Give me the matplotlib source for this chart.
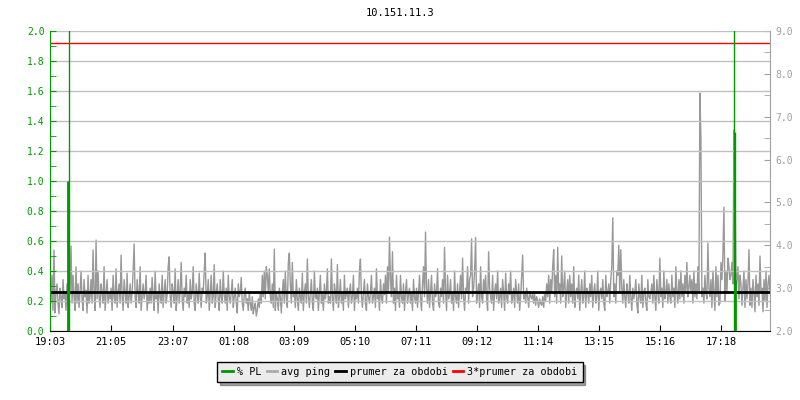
import numpy as np
import matplotlib
matplotlib.use('Agg')
import matplotlib.pyplot as plt
from matplotlib.lines import Line2D
from matplotlib.ticker import MultipleLocator, FormatStrFormatter

plt.rcParams['font.family'] = 'DejaVu Sans Mono'
plt.rcParams['font.size'] = 7

title = '10.151.11.3'
span_min = 1432
tick_minutes = [0, 122, 244, 365, 486, 607, 728, 849, 971, 1092, 1213, 1335]
tick_labels = ['19:03', '21:05', '23:07', '01:08', '03:09', '05:10',
               '07:11', '09:12', '11:14', '13:15', '15:16', '17:18']

# avg ping [ms], one value every ~2 minutes
avg_ping = [
    3.2, 2.65, 3.3, 2.48, 3.89, 2.42, 2.9, 3.1, 2.65, 2.4, 3.0, 2.8, 2.55, 3.2, 2.75, 2.9, 2.48, 3.1, 2.65, 2.8,
    2.9, 3.98, 2.65, 3.3, 2.8, 2.48, 3.5, 2.65, 3.1, 2.55, 2.9, 3.4, 2.75, 2.48, 3.2, 2.8, 2.95, 2.42, 3.3, 2.65,
    2.8, 3.2, 2.65, 3.89, 2.9, 2.48, 4.12, 2.75, 3.4, 2.8, 2.55, 3.1, 2.9, 2.65, 3.5, 2.48, 2.85, 3.2, 2.65, 2.9,
    2.75, 3.0, 2.48, 3.3, 2.8, 2.65, 3.45, 2.55, 2.9, 3.1, 2.65, 3.77, 2.8, 2.48, 3.2, 2.9, 2.65, 3.35, 2.55, 2.8,
    3.1, 2.65, 2.9, 3.4, 4.03, 2.8, 2.55, 3.2, 2.9, 2.65, 3.5, 2.48, 2.8, 3.1, 2.75, 2.9, 3.3, 2.48, 2.85, 2.65,
    3.0, 2.65, 3.25, 2.8, 2.48, 3.4, 2.75, 2.9, 2.42, 3.1, 2.8, 2.65, 3.3, 2.55, 2.9, 3.2, 2.65, 2.85, 3.5, 3.73,
    2.8, 2.55, 3.1, 2.9, 2.65, 3.45, 2.48, 2.8, 3.2, 2.65, 2.95, 3.6, 2.75, 2.48, 3.0, 2.8, 3.3, 2.65, 2.9, 2.55,
    3.2, 2.75, 2.9, 3.5, 2.65, 2.48, 3.1, 2.85, 2.65, 3.35, 2.8, 2.55, 3.0, 2.9, 3.4, 3.82, 2.65, 2.8, 3.2, 2.48,
    2.9, 3.3, 2.65, 2.8, 3.55, 2.55, 2.9, 3.1, 2.75, 2.48, 3.2, 2.8, 2.65, 3.4, 2.85, 2.65, 3.0, 2.48, 3.3, 2.8,
    2.65, 2.9, 3.2, 2.55, 2.8, 3.0, 2.65, 2.42, 3.1, 2.8, 2.9, 3.25, 2.65, 2.48, 2.85, 3.0, 2.65, 2.75, 2.48, 2.9,
    2.65, 2.48, 2.8, 2.4, 2.55, 2.65, 2.35, 2.48, 2.75, 2.55, 2.9, 2.65, 3.3, 2.8, 3.4, 2.75, 3.5, 3.3, 2.9, 3.45,
    2.8, 2.65, 3.1, 2.55, 3.91, 2.48, 2.9, 2.75, 2.48, 3.0, 2.8, 2.42, 2.9, 3.2, 2.65, 3.4, 2.8, 2.55, 3.6, 3.82,
    3.1, 2.65, 3.6, 2.8, 2.9, 2.55, 3.2, 2.75, 2.48, 3.0, 2.8, 2.65, 3.35, 2.48, 2.9, 3.1, 2.65, 3.68, 2.8, 2.55,
    2.9, 3.2, 2.65, 2.48, 3.4, 2.8, 2.75, 3.0, 2.48, 2.9, 3.3, 2.65, 2.85, 2.48, 3.1, 2.75, 2.9, 3.45, 2.65, 2.8,
    2.65, 3.68, 2.8, 2.48, 3.1, 2.9, 2.65, 3.55, 2.55, 2.8, 3.2, 2.65, 2.9, 2.48, 3.3, 2.75, 2.85, 3.0, 2.55, 2.9,
    3.1, 2.65, 2.8, 3.3, 2.48, 2.9, 2.75, 3.0, 2.65, 3.4, 3.68, 2.8, 2.55, 2.9, 3.2, 2.65, 2.48, 3.1, 2.8, 2.65,
    2.9, 3.3, 2.65, 2.8, 3.0, 2.55, 3.45, 2.75, 2.9, 2.48, 3.2, 2.8, 2.65, 3.1, 2.85, 3.3, 2.65, 3.5, 2.9, 4.19,
    3.2, 2.8, 3.85, 2.65, 3.0, 2.48, 3.3, 2.75, 2.9, 2.55, 3.3, 2.8, 2.65, 3.1, 2.48, 2.9, 3.2, 2.65, 2.85, 3.0,
    2.65, 2.9, 2.48, 3.2, 2.8, 2.65, 3.0, 2.55, 2.9, 3.3, 2.75, 2.48, 3.1, 3.5, 2.8, 4.31, 3.0, 2.65, 3.2, 2.55,
    2.9, 3.3, 2.65, 2.48, 3.1, 2.8, 2.9, 3.45, 2.65, 2.55, 3.0, 2.8, 3.2, 2.65, 3.95, 2.9, 2.48, 3.3, 2.75, 2.85,
    3.2, 2.65, 2.9, 2.48, 3.4, 2.8, 2.65, 3.1, 2.55, 2.9, 3.3, 2.75, 3.7, 2.8, 2.48, 3.0, 2.9, 3.5, 2.65, 3.2,
    3.3, 4.15, 2.8, 3.0, 3.4, 4.18, 2.65, 2.9, 3.1, 2.55, 3.5, 2.8, 2.65, 3.2, 2.9, 3.3, 2.75, 2.48, 3.85, 3.0,
    2.8, 2.65, 3.3, 2.48, 2.9, 3.1, 2.75, 3.4, 2.65, 2.8, 3.0, 2.55, 3.2, 2.9, 2.48, 3.35, 2.8, 2.65, 3.1, 2.85,
    3.4, 2.65, 2.8, 3.0, 2.55, 3.2, 2.9, 2.65, 3.1, 2.48, 2.8, 3.3, 3.77, 2.75, 2.9, 2.65, 3.0, 2.8, 2.55, 2.9,
    2.8, 2.75, 2.9, 2.65, 2.85, 2.6, 2.8, 2.7, 2.55, 2.75, 2.65, 2.6, 2.8, 2.55, 2.9, 2.7, 3.1, 2.8, 3.3, 2.65,
    3.2, 2.9, 3.5, 3.9, 2.8, 3.3, 2.65, 3.95, 2.9, 3.1, 2.65, 3.75, 2.8, 3.0, 3.4, 2.55, 2.9, 3.2, 2.65, 3.3,
    2.8, 3.1, 2.65, 3.5, 2.55, 2.9, 3.0, 2.75, 3.3, 2.48, 2.9, 3.2, 2.65, 2.8, 3.4, 2.55, 3.0, 2.9, 2.65, 3.1,
    2.8, 3.3, 2.55, 2.9, 3.1, 2.65, 2.8, 3.4, 2.48, 2.9, 3.0, 2.75, 3.2, 2.65, 2.48, 3.3, 2.8, 2.9, 3.1, 2.65,
    3.2, 3.5, 4.64, 2.8, 3.1, 2.65, 3.4, 3.3, 4.0, 2.9, 3.9, 3.0, 2.65, 3.2, 2.8, 2.55, 3.1, 2.9, 2.65, 3.3,
    2.8, 2.48, 3.0, 2.75, 2.9, 3.2, 2.65, 2.42, 3.1, 2.8, 2.65, 3.3, 2.55, 2.9, 3.0, 2.65, 2.48, 3.2, 2.8, 2.75,
    2.9, 3.1, 2.65, 3.3, 2.8, 2.48, 3.2, 2.9, 2.65, 3.7, 2.8, 3.0, 2.55, 3.4, 2.75, 2.9, 3.2, 2.65, 3.1, 2.8,
    2.65, 3.3, 2.8, 3.0, 2.55, 3.5, 2.9, 2.65, 3.2, 2.75, 3.4, 2.8, 3.1, 2.65, 3.3, 2.9, 3.6, 2.8, 3.0, 3.3,
    2.9, 3.2, 2.65, 3.4, 2.8, 3.1, 2.75, 3.5, 2.9, 7.55, 6.5, 2.8, 3.0, 2.65, 3.3, 2.9, 2.75, 4.05, 3.0, 2.8,
    3.2, 2.55, 3.4, 2.9, 2.48, 3.5, 2.8, 3.3, 2.6, 2.65, 3.6, 3.2, 3.8, 4.89, 2.7, 3.4, 2.9, 3.7, 3.5, 3.2,
    3.3, 3.6, 3.1, 6.69, 5.76, 3.0, 3.2, 3.5, 2.75, 3.3, 3.1, 2.6, 3.0, 3.4, 2.55, 3.2, 2.75, 3.1, 3.9, 2.6,
    3.0, 2.55, 3.2, 2.9, 2.45, 3.3, 2.8, 3.1, 2.6, 3.75, 2.9, 3.0, 2.45, 3.2, 2.7, 3.4, 2.55, 3.1, 3.3, 2.9,
]
prumer = 2.91  # average over the period [ms]

# packet loss [%]
pl_minutes = [36, 38, 1360, 1362, 1363]
pl_values = [1.0, 2.5, 2.5, 1.33, 0.34]
pl_widths = [2.0, 1.0, 1.0, 1.0, 2.0]

green = '#009900'
gray = '#999999'

fig = plt.figure(figsize=(8, 4), dpi=100)
ax = fig.add_axes([0.0625, 0.1725, 0.9, 0.75])
ax2 = ax.twinx()
ax.set_zorder(ax2.get_zorder() + 1)
ax.patch.set_visible(False)

t = np.linspace(0, span_min, len(avg_ping))
ax2.plot(t, avg_ping, color=gray, lw=1, zorder=2)
ax2.axhline(prumer, color='black', lw=2, zorder=3)
ax2.axhline(3 * prumer, color='red', lw=1, zorder=3)
ax2.set_ylim(2, 9)

ax.vlines(pl_minutes, 0, pl_values, colors=green, linewidths=pl_widths, zorder=4)
ax.set_ylim(0, 2)
ax.set_xlim(0, span_min)

# left axis (PL)
ax.yaxis.set_major_locator(MultipleLocator(0.2))
ax.yaxis.set_minor_locator(MultipleLocator(0.1))
ax.yaxis.set_major_formatter(FormatStrFormatter('%.1f'))
ax.tick_params(axis='y', which='both', direction='in', length=4, color=green,
               labelcolor=green, labelsize=7, pad=4)
ax.grid(axis='y', color='#c0c0c0', lw=1, zorder=0)
ax.set_axisbelow(True)

# bottom axis
ax.set_xticks(tick_minutes)
ax.set_xticklabels(tick_labels)
ax.tick_params(axis='x', direction='in', length=4, color='black', labelsize=7.5, pad=4)

# right axis (ping)
ax2.yaxis.set_major_locator(MultipleLocator(1))
ax2.yaxis.set_minor_locator(MultipleLocator(0.5))
ax2.yaxis.set_major_formatter(FormatStrFormatter('%.1f'))
ax2.tick_params(axis='y', which='both', direction='in', length=4, color='#a0a0a0',
                labelcolor='#a0a0a0', labelsize=7, pad=4)

for s in ['top', 'right']:
    ax.spines[s].set_visible(False)
ax.spines['left'].set_color(green)
ax.spines['bottom'].set_color('black')
for s in ['top', 'left', 'bottom']:
    ax2.spines[s].set_visible(False)
ax2.spines['right'].set_color('#a0a0a0')

fig.text(0.5, 1 - 13 / 400, title, ha='center', va='center', fontsize=7.5)

handles = [Line2D([], [], color=green, lw=2),
           Line2D([], [], color='#aaaaaa', lw=2),
           Line2D([], [], color='black', lw=2),
           Line2D([], [], color='red', lw=2)]
labels = ['% PL', 'avg ping', 'prumer za obdobi', '3*prumer za obdobi']
leg = fig.legend(handles, labels, loc='center', bbox_to_anchor=(0.5, 1 - 372 / 400),
                 ncol=4, fontsize=7.3, frameon=True, fancybox=False, shadow=True,
                 handlelength=1.0, handletextpad=0.4, columnspacing=0.55,
                 borderpad=0.5, borderaxespad=0)
leg.get_frame().set_edgecolor('black')
leg.get_frame().set_facecolor('#ececec')
leg.get_frame().set_alpha(1)
leg.get_frame().set_linewidth(1)

fig.savefig('out.png', dpi=100)
